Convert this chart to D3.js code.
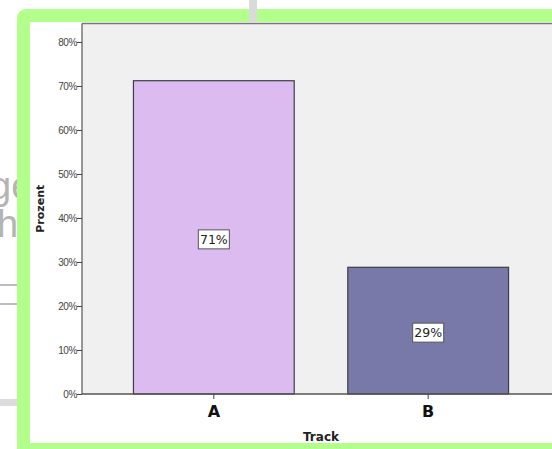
<!DOCTYPE html>
<html><head><meta charset="utf-8">
<script src="https://cdn.jsdelivr.net/npm/d3@7"></script>
<style>html,body{margin:0;padding:0;background:#fff;overflow:hidden;}</style>
</head><body>
<svg id="c" width="552" height="449"></svg>
<script>
const categories = ["A", "B"];
const values = [71.2, 28.8];
const valueLabels = ["71%", "29%"];
const barColors = ["#dcbcf0", "#7879a8"];
const yTicks = [0, 10, 20, 30, 40, 50, 60, 70, 80];
const xTitle = "Track";
const yTitle = "Prozent";

const svg = d3.select("#c");
const W = 552, H = 449;

// background artifacts
svg.append("text").attr("x", -10).attr("y", 199).attr("font-family", "Liberation Sans, Arial, sans-serif")
  .attr("font-size", 38).attr("fill", "#b4b4b4").text("ge");
svg.append("text").attr("x", -3).attr("y", 237).attr("font-family", "Liberation Sans, Arial, sans-serif")
  .attr("font-size", 38).attr("fill", "#b4b4b4").text("h");
svg.append("rect").attr("x", 0).attr("y", 284).attr("width", 18).attr("height", 2).attr("fill", "#bdbdbd");
svg.append("rect").attr("x", 0).attr("y", 303).attr("width", 18).attr("height", 2).attr("fill", "#bdbdbd");
svg.append("rect").attr("x", 0).attr("y", 399).attr("width", 18).attr("height", 7).attr("fill", "#dcdcdc");

// green frame
svg.append("rect").attr("x", 17).attr("y", 9).attr("width", 600).attr("height", 460).attr("rx", 9)
  .attr("fill", "#b2ff8c");
svg.append("rect").attr("x", 30).attr("y", 22).attr("width", 600).attr("height", 421).attr("fill", "#ffffff");
svg.append("rect").attr("x", 249).attr("y", 0).attr("width", 8).attr("height", 22).attr("fill", "#dadada");

// plot
const L = 82, T = 23.5, B = 394, R = 560;
const y = d3.scaleLinear().domain([0, 80]).range([B, B - 80 * 4.4]);
const x = d3.scaleBand().domain(categories).range([L, R]).paddingInner(0.25).paddingOuter(0.24);

svg.append("rect").attr("x", L).attr("y", T).attr("width", W - L + 10).attr("height", B - T).attr("fill", "#eff0ef");
svg.append("line").attr("x1", L).attr("x2", W + 5).attr("y1", T).attr("y2", T).attr("stroke", "#777").attr("stroke-width", 1.5);

const data = categories.map((c, i) => ({c, v: values[i], lab: valueLabels[i], col: barColors[i]}));

svg.selectAll("rect.bar").data(data).enter().append("rect").attr("class", "bar")
  .attr("x", d => x(d.c)).attr("y", d => y(d.v))
  .attr("width", x.bandwidth()).attr("height", d => y(0) - y(d.v))
  .attr("fill", d => d.col).attr("stroke", "#3e3e48").attr("stroke-width", 1.2);

// y axis
const yAxis = d3.axisLeft(y).tickValues(yTicks).tickFormat(d => d + "%").tickSize(5).tickSizeOuter(0);
const gy = svg.append("g").attr("transform", `translate(${L},0)`).call(yAxis);
gy.select(".domain").attr("stroke", "#555").attr("stroke-width", 1.2).attr("d", `M0,${T}V${B}`);
gy.selectAll(".tick line").attr("stroke", "#444");
gy.selectAll(".tick text").attr("x", -5).attr("font-family", "Liberation Sans, Arial, sans-serif")
  .attr("font-size", 10).attr("fill", "#444").attr("letter-spacing", "-0.4");

// x axis
const xAxis = d3.axisBottom(x).tickSize(5).tickSizeOuter(0);
const gx = svg.append("g").attr("transform", `translate(0,${B})`).call(xAxis);
gx.select(".domain").attr("stroke", "#555").attr("stroke-width", 1.5).attr("d", `M${L},0H${W + 5}`);
gx.selectAll(".tick line").attr("stroke", "#444");
gx.selectAll(".tick text").attr("y", 12).attr("dy", "0.71em").attr("font-family", "DejaVu Sans, sans-serif")
  .attr("font-weight", "bold").attr("font-size", 16).attr("fill", "#111");

// titles
svg.append("text").attr("x", 321).attr("y", 441).attr("text-anchor", "middle")
  .attr("font-family", "DejaVu Sans, sans-serif").attr("font-weight", "bold").attr("font-size", 12)
  .attr("fill", "#222").text(xTitle);
svg.append("text").attr("transform", `translate(44,${(T + B) / 2}) rotate(-90)`).attr("text-anchor", "middle")
  .attr("font-family", "DejaVu Sans, sans-serif").attr("font-weight", "bold").attr("font-size", 11)
  .attr("fill", "#222").text(yTitle);

// value labels
const lg = svg.selectAll("g.lab").data(data).enter().append("g").attr("class", "lab")
  .attr("transform", d => `translate(${x(d.c) + x.bandwidth() / 2},${(y(d.v) + y(0)) / 2 + 2})`);
lg.append("rect").attr("x", -15.5).attr("y", -9.5).attr("width", 31).attr("height", 19)
  .attr("fill", "#fff").attr("stroke", "#555").attr("stroke-width", 1);
lg.append("text").attr("text-anchor", "middle").attr("dy", "0.36em")
  .attr("font-family", "DejaVu Sans, sans-serif").attr("font-size", 12.5).attr("fill", "#222")
  .text(d => d.lab);
</script>
</body></html>
